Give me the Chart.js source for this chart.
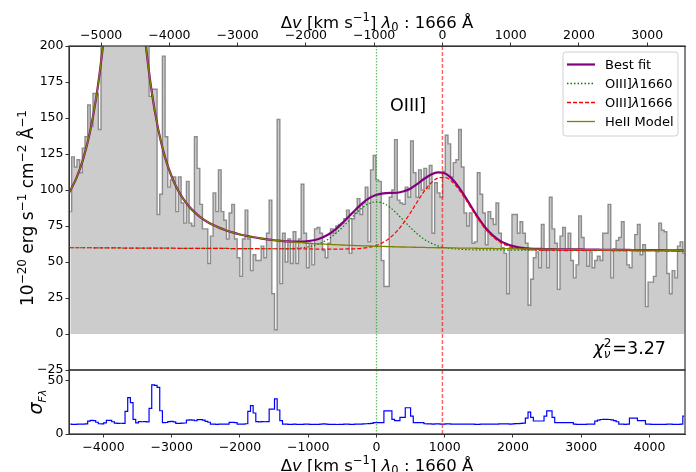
<!DOCTYPE html>
<html>
<head>
<meta charset="utf-8">
<script src="https://cdn.jsdelivr.net/npm/chart.js@4.4.1/dist/chart.umd.min.js"></script>
<style>
  html, body { margin: 0; padding: 0; background: #fff; }
  #wrap { position: relative; width: 696px; height: 472px; overflow: hidden; }
  #spec { position: absolute; left: 0; top: 0; }
  #err { position: absolute; left: 0; top: 360px; }
</style>
</head>
<body>
<div id="wrap">
  <canvas id="spec" width="696" height="382"></canvas>
  <canvas id="err" width="696" height="112"></canvas>
</div>
<script>
// spectrum bins (km/s relative to 1660 A)
const binStart = -4505;
const binWidth = 39.1;
const velMin = -4505, velMax = 4520;
const restOffset = 966; // OIII]1666 relative to OIII]1660, km/s

const flux = [
  85,123,116,121,112,129,137,159,144,167,167,142,
  215,240,270,310,350,390,420,440,430,400,370,330,300,270,245,225,210,205,
  165,170,170,83,97,193,137,102,107,109,85,109,91,77,106,77,75,137,115,90,73,73,49,68,98,85,114,85,
  79,66,84,90,66,53,40,66,86,66,44,55,51,51,61,53,70,93,28,3,149,35,70,50,66,49,71,49,66,104,
  70,46,63,48,73,74,70,58,53,63,73,70,75,76,77,80,86,56,80,84,94,83,91,102,64,114,124,107,106,51,
  33,33,95,100,135,93,91,90,102,95,134,112,95,114,100,115,101,117,70,105,98,95,113,138,132,109,119,121,142,116,
  84,75,84,63,64,112,97,84,62,85,80,76,91,70,60,56,28,60,83,83,70,78,70,63,20,38,53,57,
  46,76,58,46,95,73,63,31,68,74,58,70,51,39,48,82,67,58,47,57,46,51,54,51,70,70,90,39,59,65,
  67,78,58,48,46,58,69,76,55,62,19,36,36,40,57,77,72,71,42,28,44,39,61,64,56
];

const fluxErr = [
  9.2,9.1,9.1,9.2,9.3,9.3,9.5,12.0,12.8,12.6,
  11.0,9.6,9.4,10.5,12.8,12.8,11.5,10.2,10.0,10.1,
  10.0,21.3,34.1,29.4,13.8,10.4,11.6,11.5,11.6,11.4,
  24.0,46.0,45.5,43.8,21.8,10.6,10.8,11.6,11.8,11.4,
  10.0,10.0,10.2,10.3,13.0,13.2,13.0,12.4,13.4,13.4,
  13.0,11.8,11.0,9.2,9.2,9.1,9.2,9.3,9.2,9.2,
  10.9,10.9,10.6,9.3,9.2,9.2,9.6,21.3,26.6,19.7,
  11.6,11.4,11.6,11.5,11.6,23.4,23.4,33.0,22.5,12.5,
  9.3,9.2,9.1,9.1,9.2,9.1,9.0,9.1,9.2,9.2,
  9.1,9.0,9.0,9.1,9.3,9.4,9.3,9.1,9.0,9.0,
  8.9,9.0,9.1,9.2,9.2,9.1,9.1,9.2,9.3,9.3,
  9.4,9.6,9.8,10.0,10.6,10.6,10.6,10.6,21.6,21.6,
  21.6,13.8,12.5,12.5,15.6,15.6,24.6,24.6,16.8,10.6,
  10.6,10.6,10.6,9.6,9.4,9.4,9.3,9.4,9.4,9.3,
  9.3,9.4,9.4,9.3,9.3,9.2,9.2,9.3,9.3,9.2,
  9.2,9.2,9.1,9.1,9.2,9.2,9.3,9.3,9.2,9.2,
  9.3,9.4,9.4,9.5,9.4,9.3,9.5,9.7,9.8,9.9,
  10.2,14.8,20.6,15.6,12.2,12.2,12.2,12.2,16.8,21.6,
  21.6,15.6,10.6,10.6,10.6,10.6,10.6,10.6,10.6,9.3,
  9.1,9.1,9.1,9.1,9.2,9.2,9.3,12.0,13.0,13.6,
  13.8,13.8,13.6,13.2,12.6,11.5,9.2,9.2,9.1,9.2,
  14.8,14.8,14.8,12.5,12.5,12.5,9.3,9.2,9.1,9.1,
  9.1,9.1,9.1,9.1,9.2,9.2,9.1,9.1,9.1,9.2,
  16.8
];

// model curves
const modelVel = [-4500,-4400,-4300,-4200,-4100,-4000,-3900,-3800,-3700,-3600,
  -3500,-3400,-3300,-3200,-3100,-3000,-2900,-2800,-2700,-2600,
  -2500,-2400,-2300,-2200,-2100,-2000,-1900,-1800,-1700,-1600,
  -1500,-1400,-1300,-1200,-1100,-1000,-900,-800,-700,-600,
  -500,-400,-300,-200,-100,0,100,200,300,400,
  500,600,700,800,900,1000,1100,1200,1300,1400,
  1500,1600,1700,1800,1900,2000,2100,2200,2300,2400,
  2500,2600,2700,2800,2900,3000,3100,3200,3300,3400,
  3500,3600,3700,3800,3900,4000,4100,4200,4300,4400,4500];

const bestFit = [98.4,107.9,121.1,139.7,166.1,203.3,251.7,301.5,326.6,307.2,
  259.0,209.4,170.4,142.6,123.0,109.2,99.1,91.8,86.2,81.9,
  78.5,75.8,73.7,71.9,70.4,69.1,68.1,67.2,66.4,65.7,
  65.1,64.7,64.3,64.1,64.1,64.5,65.3,66.9,69.3,72.7,
  77.0,81.8,86.6,91.1,94.5,96.7,97.7,98.0,98.1,99.1,
  101.1,104.2,107.8,110.8,112.3,111.6,108.1,102.4,95.2,87.5,
  80.1,73.6,68.7,65.0,62.6,61.0,60.0,59.5,59.2,59.1,
  58.9,58.9,58.8,58.8,58.7,58.7,58.6,58.6,58.5,58.5,
  58.5,58.4,58.4,58.3,58.3,58.3,58.2,58.2,58.1,58.1,58.1];

const oiii1660 = [59.9,59.9,59.9,59.9,59.8,59.8,59.8,59.8,59.7,59.7,
  59.7,59.7,59.6,59.6,59.6,59.6,59.5,59.5,59.5,59.5,
  59.4,59.4,59.4,59.4,59.3,59.3,59.3,59.3,59.2,59.2,
  59.2,59.2,59.3,59.5,59.8,60.5,61.7,63.5,66.1,69.7,
  74.0,78.9,83.8,88.0,90.8,91.8,90.8,87.9,83.6,78.7,
  73.8,69.4,65.8,63.1,61.2,60.0,59.3,58.9,58.6,58.5,
  58.4,58.4,58.4,58.4,58.3,58.3,58.3,58.3,58.2,58.2,
  58.2,58.2,58.1,58.1,58.1,58.1,58.0,58.0,58.0,58.0,
  57.9,57.9,57.9,57.9,57.8,57.8,57.8,57.8,57.7,57.7,57.7];

const oiii1666 = [59.9,59.9,59.9,59.9,59.8,59.8,59.8,59.8,59.7,59.7,
  59.7,59.7,59.6,59.6,59.6,59.6,59.5,59.5,59.5,59.5,
  59.4,59.4,59.4,59.4,59.3,59.3,59.3,59.3,59.2,59.2,
  59.2,59.2,59.1,59.1,59.1,59.1,59.0,59.0,59.0,59.0,
  59.0,59.1,59.2,59.6,60.3,61.6,63.7,66.9,71.4,77.4,
  84.4,92.0,99.2,104.9,108.3,108.8,106.1,100.8,93.9,86.3,
  79.0,72.6,67.7,64.0,61.6,60.1,59.2,58.7,58.4,58.3,
  58.2,58.2,58.1,58.1,58.1,58.1,58.0,58.0,58.0,58.0,
  57.9,57.9,57.9,57.9,57.8,57.8,57.8,57.8,57.7,57.7,57.7];

const heiiModel = [98.4,107.9,121.1,139.7,166.1,203.3,251.7,301.5,326.6,307.2,
  259.0,209.4,170.4,142.6,123.0,109.2,99.1,91.8,86.2,81.9,
  78.5,75.8,73.7,71.9,70.4,69.1,68.1,67.2,66.4,65.7,
  65.1,64.6,64.1,63.7,63.4,63.0,62.7,62.5,62.2,62.0,
  61.8,61.6,61.4,61.2,61.1,60.9,60.8,60.7,60.5,60.4,
  60.3,60.2,60.1,60.0,59.9,59.9,59.8,59.7,59.6,59.6,
  59.5,59.4,59.4,59.3,59.3,59.2,59.1,59.1,59.0,59.0,
  58.9,58.9,58.8,58.8,58.7,58.7,58.6,58.6,58.5,58.5,
  58.5,58.4,58.4,58.3,58.3,58.3,58.2,58.2,58.1,58.1,58.1];

const lineCentres = [0, 966];
const bottomTicks = [-4000,-3000,-2000,-1000,0,1000,2000,3000,4000];
const topTicks = [-5000,-4000,-3000,-2000,-1000,0,1000,2000,3000];
const fluxTicks = [-25,0,25,50,75,100,125,150,175,200];
const errTicks = [0,50];
const chi2 = '3.27';

const FONT = 'DejaVu Sans';
Chart.defaults.font.family = FONT;
Chart.defaults.color = '#000';

const binVel = flux.map((_, i) => binStart + binWidth * (i + 0.5));
const pts = (xs, ys) => xs.map((x, i) => ({ x: x, y: ys[i] }));
const fmt = v => (v < 0 ? '\u2212' : '') + Math.abs(v);
const setTicks = arr => s => { s.ticks = arr.map(v => ({ value: v })); };

const tickFont = { family: FONT, size: 12.5 };
const gridOpts = { drawOnChartArea: false, drawTicks: true, tickLength: 3.5, color: '#333', lineWidth: 1 };
const borderOpts = { display: true, color: '#333', width: 1 };

// mathtext-like label: parts of [text, kind]; kind has 'i' italic, '^' superscript, '_' subscript
function drawRich(ctx, parts, x, y, o) {
  const fontOf = k => (k.indexOf('i') >= 0 ? 'italic ' : '') +
    (k.indexOf('^') >= 0 || k.indexOf('_') >= 0 ? o.small : o.size) + 'px ' + FONT;
  const dyOf = k => k.indexOf('^') >= 0 ? -o.size * 0.42 : (k.indexOf('_') >= 0 ? o.size * 0.2 : 0);
  let total = 0;
  const ws = parts.map(p => { ctx.font = fontOf(p[1]); const w = ctx.measureText(p[0]).width; total += w; return w; });
  ctx.save();
  ctx.translate(x, y);
  if (o.rotate) ctx.rotate(o.rotate);
  ctx.fillStyle = '#000'; ctx.textAlign = 'left'; ctx.textBaseline = 'alphabetic';
  let cx = o.align === 'right' ? -total : (o.align === 'left' ? 0 : -total / 2);
  parts.forEach((p, i) => { ctx.font = fontOf(p[1]); ctx.fillText(p[0], cx, dyOf(p[1])); cx += ws[i]; });
  ctx.restore();
}

const velTitle = lam => [['\u0394', ''], ['v', 'i'], [' [km s', ''], ['\u22121', '^'], ['] ', ''],
  ['\u03bb', 'i'], ['0', '_'], [' : ' + lam + ' \u00c5', '']];

// vertical line markers + frame, shared by both panels
const lineStyles = [
  { color: 'rgba(0,150,0,0.6)', dash: [1.5, 1.5], width: 1.3 },
  { color: 'rgba(255,0,0,0.6)', dash: [4, 2], width: 1.5 }
];
const panelDecor = {
  id: 'panelDecor',
  afterDatasetsDraw(chart) {
    const { ctx, chartArea: a, scales } = chart;
    ctx.save();
    ctx.beginPath(); ctx.rect(a.left, a.top, a.width, a.height); ctx.clip();
    lineCentres.forEach((v, i) => {
      const st = lineStyles[i];
      const px = scales.x.getPixelForValue(v);
      ctx.strokeStyle = st.color; ctx.lineWidth = st.width; ctx.setLineDash(st.dash);
      ctx.beginPath(); ctx.moveTo(px, a.top); ctx.lineTo(px, a.bottom); ctx.stroke();
    });
    ctx.restore();
    ctx.save();
    ctx.strokeStyle = '#333'; ctx.lineWidth = 1.2;
    ctx.strokeRect(a.left, a.top, a.width, a.height);
    ctx.restore();
  }
};

// legend box, titles, line label and chi^2 on the main panel
const specNotes = {
  id: 'specNotes',
  afterDraw(chart) {
    const { ctx, chartArea: a, scales } = chart;
    drawRich(ctx, velTitle('1666'), (a.left + a.right) / 2, 27.5, { size: 16.5, small: 11.5 });
    drawRich(ctx, [['10', ''], ['\u221220', '^'], [' erg s', ''], ['\u22121', '^'], [' cm', ''],
      ['\u22122', '^'], [' \u00c5', ''], ['\u22121', '^']], 33, (a.top + a.bottom) / 2,
      { size: 17, small: 12, rotate: -Math.PI / 2 });
    ctx.save();
    // legend
    const items = chart.data.datasets.filter(d => d.inLegend);
    const w = 115, h = 84, bx = a.right - 7 - w, by = a.top + 6;
    ctx.fillStyle = 'rgba(255,255,255,0.8)';
    ctx.strokeStyle = '#d0d0d0'; ctx.lineWidth = 1;
    ctx.beginPath();
    if (ctx.roundRect) ctx.roundRect(bx, by, w, h, 3); else ctx.rect(bx, by, w, h);
    ctx.fill(); ctx.stroke();
    items.forEach((d, i) => {
      const y = Math.round(by + 11.5 + i * 19) + 0.5;
      ctx.save();
      ctx.strokeStyle = d.borderColor; ctx.lineWidth = Math.max(d.borderWidth, 1.3);
      ctx.setLineDash(d.borderDash || []);
      ctx.beginPath(); ctx.moveTo(bx + 4, y); ctx.lineTo(bx + 32, y); ctx.stroke();
      ctx.restore();
      const bits = d.label.split('\u03bb');
      const parts = bits.length > 1 ? [[bits[0], ''], ['\u03bb', 'i'], [bits[1], '']] : [[d.label, '']];
      drawRich(ctx, parts, bx + 42, y + 4.5, { size: 13, small: 9, align: 'left' });
    });
    // line name
    ctx.fillStyle = '#000';
    ctx.font = '17.5px ' + FONT;
    ctx.textAlign = 'center'; ctx.textBaseline = 'middle';
    ctx.fillText('OIII]', scales.x.getPixelForValue(462), scales.y.getPixelForValue(158));
    // reduced chi^2
    const big = '17.5px ' + FONT, bigIt = 'italic 17.5px ' + FONT, small = '12px ' + FONT, smallIt = 'italic 12px ' + FONT;
    ctx.textAlign = 'left'; ctx.textBaseline = 'alphabetic';
    ctx.font = bigIt; const wChi = ctx.measureText('\u03c7').width;
    ctx.font = small; const wSup = ctx.measureText('2').width;
    ctx.font = smallIt; const wSub = ctx.measureText('\u03bd').width;
    ctx.font = big; const wVal = ctx.measureText('=' + chi2).width;
    const total = wChi + Math.max(wSup, wSub) + 1 + wVal;
    let x0 = a.right - 19 - total; const yb = a.bottom - 16;
    ctx.font = bigIt; ctx.fillText('\u03c7', x0, yb); x0 += wChi;
    ctx.font = small; ctx.fillText('2', x0, yb - 7);
    ctx.font = smallIt; ctx.fillText('\u03bd', x0, yb + 4);
    x0 += Math.max(wSup, wSub) + 1;
    ctx.font = big; ctx.fillText('=' + chi2, x0, yb);
    ctx.restore();
  }
};

// axis labels on the error panel
const errNotes = {
  id: 'errNotes',
  afterDraw(chart) {
    const { ctx, chartArea: a } = chart;
    drawRich(ctx, velTitle('1660'), (a.left + a.right) / 2, chart.height - 1.5, { size: 16.5, small: 11.5 });
    drawRich(ctx, [['\u03c3', 'i'], ['F', '_i'], ['\u03bb', 'i_']], 42, (a.top + a.bottom) / 2,
      { size: 19, small: 11, rotate: -Math.PI / 2 });
  }
};

const spec = new Chart(document.getElementById('spec'), {
  type: 'line',
  data: {
    datasets: [
      { label: 'Best fit', data: pts(modelVel, bestFit), borderColor: '#800080', borderWidth: 2.2,
        cubicInterpolationMode: 'monotone', order: 4, inLegend: true },
      { label: 'OIII]\u03bb1660', data: pts(modelVel, oiii1660), borderColor: '#008000', borderWidth: 1.2,
        borderDash: [1.5, 2], cubicInterpolationMode: 'monotone', order: 3, inLegend: true },
      { label: 'OIII]\u03bb1666', data: pts(modelVel, oiii1666), borderColor: '#ff0000', borderWidth: 1.2,
        borderDash: [4, 2], cubicInterpolationMode: 'monotone', order: 2, inLegend: true },
      { label: 'HeII Model', data: pts(modelVel, heiiModel), borderColor: '#808000', borderWidth: 1.3,
        cubicInterpolationMode: 'monotone', order: 1, inLegend: true },
      { label: 'Spectrum', data: pts(binVel, flux), stepped: 'middle', borderColor: '#8c8c8c', borderWidth: 1.4,
        backgroundColor: '#cccccc', fill: 'origin', order: 5 }
    ]
  },
  options: {
    responsive: false, animation: false, devicePixelRatio: 1,
    layout: { padding: { left: 0, right: 11, top: 0, bottom: 12 } },
    elements: { point: { radius: 0 } },
    plugins: { legend: { display: false }, tooltip: { enabled: false } },
    scales: {
      x: { type: 'linear', min: velMin, max: velMax, display: false },
      xTop: {
        type: 'linear', axis: 'x', position: 'top',
        min: velMin - restOffset, max: velMax - restOffset,
        afterBuildTicks: setTicks(topTicks),
        afterFit: s => { s.height = 46; },
        grid: gridOpts, border: borderOpts,
        ticks: { font: tickFont, padding: -1, maxRotation: 0, callback: fmt }
      },
      y: {
        type: 'linear', min: -25, max: 200,
        afterBuildTicks: setTicks(fluxTicks),
        afterFit: s => { s.width = 69; },
        grid: gridOpts, border: borderOpts,
        ticks: { font: tickFont, padding: 2, callback: fmt }
      }
    }
  },
  plugins: [panelDecor, specNotes]
});

const err = new Chart(document.getElementById('err'), {
  type: 'line',
  data: {
    datasets: [
      { label: 'sigma', data: pts(binVel, fluxErr), stepped: 'middle', borderColor: '#0000ff',
        borderWidth: 1.2, fill: false }
    ]
  },
  options: {
    responsive: false, animation: false, devicePixelRatio: 1,
    layout: { padding: { left: 0, right: 11, top: 10, bottom: 0 } },
    elements: { point: { radius: 0 } },
    plugins: { legend: { display: false }, tooltip: { enabled: false } },
    scales: {
      x: {
        type: 'linear', min: velMin, max: velMax,
        afterBuildTicks: setTicks(bottomTicks),
        afterFit: s => { s.height = 38; },
        grid: gridOpts, border: borderOpts,
        ticks: { font: tickFont, padding: 3, maxRotation: 0, callback: fmt }
      },
      y: {
        type: 'linear', min: 0, max: 60,
        afterBuildTicks: setTicks(errTicks),
        afterFit: s => { s.width = 69; },
        grid: gridOpts, border: borderOpts,
        ticks: { font: tickFont, padding: 2, callback: fmt }
      }
    }
  },
  plugins: [panelDecor, errNotes]
});
</script>
</body>
</html>
